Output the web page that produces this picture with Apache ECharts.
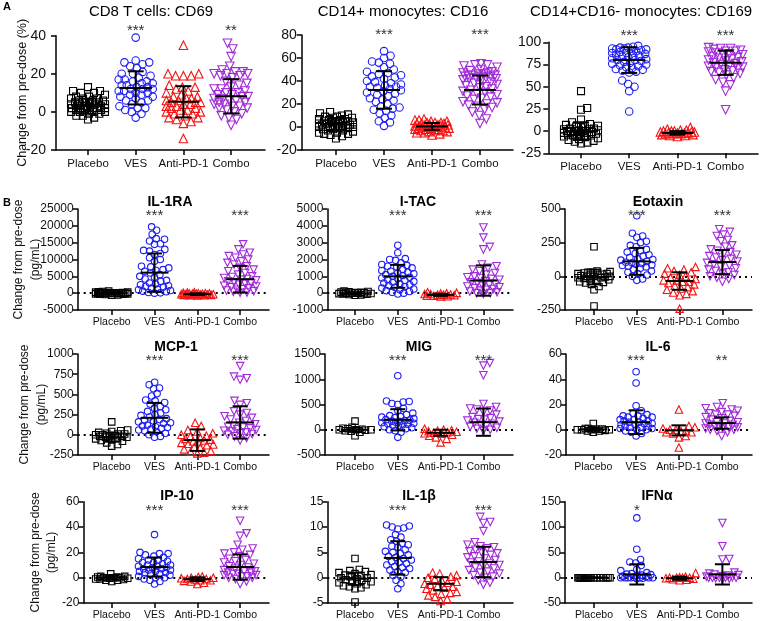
<!DOCTYPE html>
<html><head><meta charset="utf-8">
<script src="https://cdn.jsdelivr.net/npm/echarts@6/dist/echarts.min.js"></script>
<style>html,body{margin:0;padding:0;background:#fff}#c{width:760px;height:621px}</style>
</head><body><div id="c"></div><script>
const CATS = ['Placebo', 'VES', 'Anti-PD-1', 'Combo'];

// ---- A: CD8 T cells: CD69 (%)
const cd69Ticks = [-20, 0, 20, 40];
const cd69Placebo = [13, 11, 11, 10, 10, 9, 8, 8, 7, 7, 7, 6, 6, 6, 5, 5, 5, 5, 4, 4, 4, 4, 3, 3, 3, 3, 3, 2, 2, 2, 2, 2, 1, 1, 1, 1, 0, 0, 0, 0, -1, -1, -2, -2, -3, -4];
const cd69Ves = [39, 27, 26, 26, 25, 24, 23, 21, 20, 20, 19, 18, 17, 17, 16, 16, 15, 15, 14, 14, 13, 13, 12, 12, 12, 11, 11, 10, 10, 9, 9, 8, 8, 7, 6, 6, 5, 4, 3, 2, 2, 1, 0, -1, -3];
const cd69Anti = [35, 20, 20, 19, 19, 19, 14, 13, 13, 12, 11, 10, 9, 8, 8, 7, 7, 6, 6, 5, 5, 5, 4, 4, 3, 3, 2, 2, 1, 1, 0, 0, -1, -1, -2, -3, -3, -4, -5, -6, -14];
const cd69Combo = [36, 33, 29, 24, 22, 21, 21, 20, 20, 20, 19, 19, 18, 16, 15, 14, 13, 12, 12, 11, 10, 10, 9, 9, 8, 8, 7, 7, 6, 6, 5, 5, 4, 4, 3, 3, 2, 2, 1, 0, -1, -2, -3, -4, -7];
const cd69Mean = [3, 12.6, 5.3, 8.2];
const cd69Sd = [4, 8.7, 8.2, 9];
const cd69Stars = ['', '***', '', '**'];

// ---- A: CD14+ monocytes: CD16
const cd16Ticks = [-20, 0, 20, 40, 60, 80];
const cd16Placebo = [13, 12, 11, 10, 9, 9, 8, 8, 7, 7, 6, 6, 5, 5, 5, 4, 4, 4, 3, 3, 3, 2, 2, 2, 1, 1, 1, 0, 0, 0, -1, -1, -2, -2, -3, -3, -4, -5, -5, -6, -6, -7, -8, -10];
const cd16Ves = [66, 62, 60, 57, 56, 55, 52, 50, 48, 47, 46, 45, 44, 43, 42, 40, 39, 38, 37, 36, 35, 35, 34, 33, 32, 31, 30, 29, 28, 27, 25, 24, 23, 22, 20, 18, 17, 16, 15, 14, 12, 10, 8, 5, 4, 1];
const cd16Anti = [7, 6, 6, 5, 5, 4, 4, 4, 3, 3, 3, 2, 2, 2, 2, 1, 1, 1, 1, 0, 0, 0, 0, -1, -1, -1, -2, -2, -2, -3, -3, -3, -4, -4, -5, -5, -6, -7];
const cd16Combo = [55, 54, 54, 53, 52, 50, 49, 48, 47, 47, 46, 46, 45, 45, 45, 44, 44, 44, 43, 43, 42, 42, 41, 40, 39, 38, 37, 36, 35, 34, 33, 32, 31, 30, 29, 28, 27, 26, 25, 24, 22, 21, 20, 19, 18, 17, 15, 13, 10, 7, 3];
const cd16Mean = [2.3, 32.2, 0.5, 32.2];
const cd16Sd = [5.5, 16.3, 3, 12.6];
const cd16Stars = ['', '***', '', '***'];

// ---- A: CD14+CD16- monocytes: CD169
const cd169Ticks = [-25, 0, 25, 50, 75, 100];
const cd169Placebo = [45, 26, 24, 13, 10, 8, 7, 6, 5, 5, 4, 3, 3, 2, 2, 1, 1, 0, 0, 0, -1, -1, -2, -2, -3, -3, -4, -4, -5, -5, -6, -7, -8, -9, -10, -11, -12, -13, -14];
const cd169Ves = [96, 95, 94, 94, 93, 93, 92, 92, 91, 90, 90, 89, 88, 88, 87, 86, 85, 85, 84, 83, 82, 81, 80, 80, 79, 78, 77, 76, 75, 74, 73, 72, 71, 70, 69, 68, 67, 66, 57, 53, 50, 45, 22];
const cd169Anti = [4, 2, 1, 1, 0, 0, 0, -1, -1, -1, -2, -2, -2, -2, -3, -3, -3, -4, -4, -5, -5, -6];
const cd169Combo = [94, 93, 93, 92, 91, 90, 90, 89, 88, 87, 86, 85, 84, 83, 82, 81, 80, 79, 78, 77, 76, 75, 74, 73, 72, 71, 70, 69, 68, 67, 66, 65, 63, 60, 58, 55, 52, 45, 24];
const cd169Mean = [0, 80, -2, 77];
const cd169Sd = [10, 14.5, 2, 13.7];
const cd169Stars = ['', '***', '', '***'];

// ---- B: IL-1RA (pg/mL)
const il1raTicks = [-5000, 0, 5000, 10000, 15000, 20000, 25000];
const il1raPlacebo = [600, 500, 400, 300, 300, 200, 200, 100, 100, 100, 50, 0, 0, 0, 0, -50, -100, -100, -100, -200, -200, -300, -300, -400, -500, -600];
const il1raVes = [19700, 18700, 17500, 16200, 16000, 15500, 14700, 14500, 13000, 12700, 12500, 11800, 11500, 10500, 10000, 9500, 8000, 7800, 7500, 7000, 6800, 6500, 6000, 5500, 5000, 4700, 4200, 3800, 3500, 3000, 2700, 2500, 2200, 2000, 1800, 1500, 1200, 1000, 800, 600, 400, 200, 100, 0];
const il1raAnti = [300, 200, 100, 0, 0, -100, -100, -200, -200, -200, -300, -300, -300, -400, -400, -400, -500, -500, -500, -600, -600, -700];
const il1raCombo = [14500, 13000, 12000, 11500, 11000, 10500, 10000, 9500, 9000, 8500, 8000, 7500, 7000, 6500, 6000, 5500, 5000, 4800, 4500, 4200, 4000, 3800, 3500, 3200, 3000, 2800, 2500, 2200, 2000, 1800, 1500, 1200, 1000, 800, 600, 400, 200, 100];
const il1raMean = [0, 6100, -300, 4150];
const il1raSd = [300, 5700, 250, 3950];
const il1raStars = ['', '***', '', '***'];

// ---- B: I-TAC
const itacTicks = [-1000, 0, 1000, 2000, 3000, 4000, 5000];
const itacPlacebo = [120, 100, 80, 60, 50, 30, 20, 0, 0, 0, -20, -30, -50, -60, -80, -100, -120];
const itacVes = [2850, 2400, 2050, 2000, 1950, 1800, 1700, 1650, 1600, 1550, 1500, 1400, 1350, 1300, 1250, 1200, 1150, 1100, 1050, 1000, 950, 900, 850, 800, 750, 700, 650, 600, 550, 500, 450, 400, 350, 300, 250, 200, 150, 100, 50, 0, -50];
const itacAnti = [50, 20, 0, -20, -50, -50, -80, -100, -100, -120, -150, -150, -180, -200];
const itacCombo = [3900, 3300, 2750, 2600, 1700, 1600, 1500, 1400, 1300, 1200, 1100, 1000, 950, 900, 850, 800, 700, 650, 600, 550, 500, 450, 400, 350, 300, 250, 200, 150, 100, 50, 0, 0, -50];
const itacMean = [-10, 1000, -100, 750];
const itacSd = [60, 680, 60, 900];
const itacStars = ['', '***', '', '***'];

// ---- B: Eotaxin
const eotTicks = [-250, 0, 250, 500];
const eotPlacebo = [220, 40, 35, 30, 30, 25, 20, 20, 15, 10, 10, 5, 0, 0, 0, -5, -10, -10, -15, -20, -25, -30, -40, -45, -50, -60, -75, -100, -220];
const eotVes = [450, 320, 300, 290, 260, 250, 230, 220, 200, 190, 180, 170, 160, 150, 140, 130, 125, 120, 110, 105, 100, 95, 90, 85, 80, 75, 70, 60, 50, 40, 30, 20, 10, 0, -20, -30];
const eotAnti = [70, 60, 50, 40, 30, 20, 10, 0, -10, -20, -30, -30, -40, -40, -50, -60, -70, -80, -90, -100, -110, -120, -130, -140, -240];
const eotCombo = [350, 330, 310, 300, 270, 260, 230, 220, 200, 190, 180, 170, 160, 150, 140, 130, 120, 110, 100, 90, 80, 70, 60, 50, 40, 30, 20, 10, 0, -10, -20, -40];
const eotMean = [-5, 111, -35, 106];
const eotSd = [55, 100, 65, 90];
const eotStars = ['', '***', '', '***'];

// ---- B: MCP-1
const mcpTicks = [-250, 0, 250, 500, 750, 1000];
const mcpPlacebo = [160, 60, 50, 40, 30, 20, 10, 10, 0, 0, -10, -10, -20, -20, -30, -30, -40, -50, -60, -70, -80, -100, -120, -140];
const mcpVes = [650, 620, 580, 570, 510, 480, 430, 420, 400, 380, 350, 330, 310, 290, 270, 250, 240, 220, 200, 190, 180, 170, 160, 150, 140, 120, 110, 100, 90, 80, 70, 60, 50, 40, 20, 0, -20, -30];
const mcpAnti = [150, 110, 60, 40, 20, 0, -10, -20, -40, -50, -60, -70, -80, -90, -100, -110, -120, -130, -150, -160, -180, -200, -210, -220, -230];
const mcpCombo = [850, 720, 700, 680, 420, 390, 370, 290, 270, 250, 230, 210, 190, 170, 150, 130, 110, 100, 90, 80, 70, 60, 50, 40, 30, 20, 10, 0, -20, -40, -70];
const mcpMean = [-30, 210, -66, 153];
const mcpSd = [55, 185, 133, 200];
const mcpStars = ['', '***', '', '***'];

// ---- B: MIG
const migTicks = [-500, 0, 500, 1000, 1500];
const migPlacebo = [170, 50, 30, 20, 10, 0, 0, 0, -10, -20, -30, -50, -120];
const migVes = [1070, 570, 560, 550, 520, 500, 420, 380, 330, 300, 280, 260, 250, 240, 220, 200, 190, 180, 170, 160, 150, 140, 130, 120, 110, 100, 90, 80, 60, 40, 20, 0, -20, -50, -150];
const migAnti = [20, 0, -10, -20, -30, -40, -50, -60, -70, -80, -100, -120, -150, -180, -250];
const migCombo = [1320, 1270, 1080, 510, 450, 420, 400, 380, 350, 300, 250, 230, 210, 200, 180, 160, 140, 120, 100, 80, 60, 40, 20, 0, -20];
const migMean = [0, 197, -60, 150];
const migSd = [40, 210, 60, 270];
const migStars = ['', '***', '', '***'];

// ---- B: IL-6
const il6Ticks = [-20, 0, 20, 40, 60];
const il6Placebo = [5, 1, 1, 0.5, 0.5, 0, 0, 0, 0, -0.5, -1, -1, -2];
const il6Ves = [46, 37, 19, 15, 13, 12, 11, 11, 10, 10, 9, 8, 8, 7, 7, 6, 6, 5, 5, 4, 4, 3, 3, 2, 2, 1, 1, 0, 0, -1, -2, -3, -5];
const il6Anti = [16, 3, 2, 1, 0, 0, -1, -1, -2, -2, -3, -5, -6, -14];
const il6Combo = [21, 18, 17, 16, 15, 14, 13, 12, 12, 11, 10, 9, 8, 7, 6, 6, 5, 5, 4, 4, 3, 3, 2, 2, 1, 1, 0, 0, -1, -2, -5];
const il6Mean = [0.3, 6, -0.5, 5.3];
const il6Sd = [1.2, 9.4, 4, 4.5];
const il6Stars = ['', '***', '', '**'];

// ---- B: IP-10
const ip10Ticks = [-20, 0, 20, 40, 60];
const ip10Placebo = [3, 1, 1, 0.5, 0.5, 0, 0, 0, 0, -0.5, -0.5, -1, -1, -1.5, -2, -2, -3];
const ip10Ves = [34, 20, 19, 19, 18, 17, 16, 15, 14, 14, 13, 12, 12, 11, 10, 10, 9, 9, 8, 8, 7, 7, 6, 6, 5, 5, 4, 4, 3, 3, 2, 1, 0, 0, -1, -2, -3, -5];
const ip10Anti = [1, 0.5, 0, 0, -0.5, -1, -1, -1.5, -2, -2, -2.5, -3, -4, -5];
const ip10Combo = [45, 35, 33, 26, 23, 22, 20, 19, 18, 17, 15, 14, 13, 12, 11, 10, 9, 8, 7, 6, 5, 5, 4, 4, 3, 3, 2, 2, 1, 1, 0, 0, -1, -3, -5];
const ip10Mean = [0, 8.4, -1.2, 8.4];
const ip10Sd = [1.5, 7.5, 1.5, 10];
const ip10Stars = ['', '***', '', '***'];

// ---- B: IL-1β
const il1bTicks = [-5, 0, 5, 10, 15];
const il1bPlacebo = [3.8, 1.6, 1.4, 1.2, 1.0, 0.8, 0.6, 0.5, 0.4, 0.2, 0, 0, -0.2, -0.4, -0.5, -0.6, -0.8, -1, -1.2, -1.4, -1.6, -1.8, -2, -2.2, -4.8];
const il1bVes = [10.4, 10.2, 10, 9.8, 9.6, 8.5, 8.0, 7.5, 7.2, 6.8, 6.5, 6.2, 6.0, 5.5, 5.2, 5.0, 4.8, 4.5, 4.2, 4.0, 3.8, 3.5, 3.2, 3.0, 2.8, 2.5, 2.2, 2.0, 1.8, 1.5, 1.2, 1.0, 0.5, 0.2, -0.5, -1.2, -2.2];
const il1bAnti = [1.0, 0.8, 0.5, 0.2, 0, -0.2, -0.5, -0.8, -1.0, -1.2, -1.4, -1.6, -1.8, -2.0, -2.2, -2.5, -2.8, -3.0, -3.2, -3.5, -3.8, -4.2, -4.6];
const il1bCombo = [12, 11, 10.8, 9.2, 7, 6.5, 6.2, 6, 5.8, 5.5, 5.2, 5.0, 4.8, 4.5, 4.2, 4.0, 3.8, 3.5, 3.2, 3.0, 2.8, 2.5, 2.2, 2.0, 1.8, 1.5, 1.2, 1.0, 0.8, 0.5, 0.2, 0, -0.5, -1.0, -1.4];
const il1bMean = [-0.2, 3.9, -1.2, 3.1];
const il1bSd = [1.2, 3.3, 1.3, 3.0];
const il1bStars = ['', '***', '', '***'];

// ---- B: IFNα
const ifnTicks = [-50, 0, 50, 100, 150];
const ifnPlacebo = [0, 0, 0, 0, 0, 0, 0, 0, 0, 0, 0, 0, 0, 0, 0, 0, 0, 0, 0, 0];
const ifnVes = [118, 56, 36, 31, 29, 24, 16, 14, 10, 8, 7, 6, 5, 4, 3, 2, 1, 0, 0, 0, 0, 0, 0, 0, -1, -2];
const ifnAnti = [9, 2, 1, 0, 0, 0, 0, -1, -2, -3, -4, -5];
const ifnCombo = [108, 62, 37, 36, 10, 8, 6, 5, 4, 3, 2, 1, 0, 0, 0, 0, 0, -1, -2, -3];
const ifnMean = [0, 6.5, -1, 6.5];
const ifnSd = [0, 20, 3, 20];
const ifnStars = ['', '*', '', ''];

// ---------------- layout & styling ----------------
const COLORS = ['#000000', '#1d1df2', '#f51414', '#a12bd8'];
const SYMBOLS = ['rect', 'circle', 'triangle', 'triangle'];
const ROTS = [0, 0, 0, 180];
const FONT = '"Liberation Sans", Arial, sans-serif';
const BNAME = 'Change from pre-dose\n(pg/mL)';

const PANELS = [
  {title: 'CD8 T cells: CD69', sec: 'A', d: [cd69Placebo, cd69Ves, cd69Anti, cd69Combo], mean: cd69Mean, sd: cd69Sd, stars: cd69Stars, ticks: cd69Ticks,
   L: 56, R: 265, T: 35.7, B: 150, c0: 88, step: 47.7, tx: 151, ty: 12, sy: 28, lm: 10, yName: 'Change from pre-dose (%)', nameGap: 25},
  {title: 'CD14+ monocytes: CD16', sec: 'A', d: [cd16Placebo, cd16Ves, cd16Anti, cd16Combo], mean: cd16Mean, sd: cd16Sd, stars: cd16Stars, ticks: cd16Ticks,
   L: 301.7, R: 513, T: 35, B: 150, c0: 336, step: 48, tx: 403, ty: 12, sy: 32, lm: 5},
  {title: 'CD14+CD16- monocytes: CD169', sec: 'A', d: [cd169Placebo, cd169Ves, cd169Anti, cd169Combo], mean: cd169Mean, sd: cd169Sd, stars: cd169Stars, ticks: cd169Ticks,
   L: 548.3, R: 758, T: 42.3, B: 153.3, c0: 581, step: 48.2, tx: 641, ty: 12, sy: 32.7, lm: 7},
  {title: 'IL-1RA', sec: 'B', d: [il1raPlacebo, il1raVes, il1raAnti, il1raCombo], mean: il1raMean, sd: il1raSd, stars: il1raStars, ticks: il1raTicks,
   L: 77.7, R: 269, T: 209, B: 310, c0: 111.7, step: 42.8, tx: 170, ty: 202, sy: 213, lm: 4, yName: BNAME, nameGap: 34},
  {title: 'I-TAC', sec: 'B', d: [itacPlacebo, itacVes, itacAnti, itacCombo], mean: itacMean, sd: itacSd, stars: itacStars, ticks: itacTicks,
   L: 327.3, R: 513, T: 209, B: 310, c0: 355, step: 42.8, tx: 418, ty: 202, sy: 213, lm: 4},
  {title: 'Eotaxin', sec: 'B', d: [eotPlacebo, eotVes, eotAnti, eotCombo], mean: eotMean, sd: eotSd, stars: eotStars, ticks: eotTicks,
   L: 565, R: 752, T: 209, B: 310, c0: 594, step: 42.8, tx: 658, ty: 202, sy: 213, lm: 4},
  {title: 'MCP-1', sec: 'B', d: [mcpPlacebo, mcpVes, mcpAnti, mcpCombo], mean: mcpMean, sd: mcpSd, stars: mcpStars, ticks: mcpTicks,
   L: 77.7, R: 269, T: 354, B: 455, c0: 111.7, step: 42.8, tx: 176, ty: 347, sy: 358, lm: 4, yName: BNAME, nameGap: 28},
  {title: 'MIG', sec: 'B', d: [migPlacebo, migVes, migAnti, migCombo], mean: migMean, sd: migSd, stars: migStars, ticks: migTicks,
   L: 325, R: 513, T: 354, B: 455, c0: 355, step: 42.8, tx: 419, ty: 347, sy: 358, lm: 4},
  {title: 'IL-6', sec: 'B', d: [il6Placebo, il6Ves, il6Anti, il6Combo], mean: il6Mean, sd: il6Sd, stars: il6Stars, ticks: il6Ticks,
   L: 566, R: 752, T: 354, B: 455, c0: 593.3, step: 42.8, tx: 658, ty: 347, sy: 358, lm: 4},
  {title: 'IP-10', sec: 'B', d: [ip10Placebo, ip10Ves, ip10Anti, ip10Combo], mean: ip10Mean, sd: ip10Sd, stars: ip10Stars, ticks: ip10Ticks,
   L: 83.3, R: 269, T: 501.7, B: 604, c0: 111.7, step: 42.8, tx: 177, ty: 495.7, sy: 508.3, lm: 4, yName: BNAME, nameGap: 23},
  {title: 'IL-1β', sec: 'B', d: [il1bPlacebo, il1bVes, il1bAnti, il1bCombo], mean: il1bMean, sd: il1bSd, stars: il1bStars, ticks: il1bTicks,
   L: 327.3, R: 513, T: 501.7, B: 604, c0: 355, step: 42.8, tx: 419, ty: 495.7, sy: 508.3, lm: 4},
  {title: 'IFNα', sec: 'B', d: [ifnPlacebo, ifnVes, ifnAnti, ifnCombo], mean: ifnMean, sd: ifnSd, stars: ifnStars, ticks: ifnTicks,
   L: 565, R: 752, T: 501.7, B: 604, c0: 594, step: 42.8, tx: 657, ty: 495.7, sy: 508.3, lm: 4}
];

// beeswarm layout (pixel offsets) computed from values
function swarm(values, pxPerUnit, diam, maxHalf) {
  const order = values.map((v, i) => i).sort((a, b) => values[a] - values[b]);
  const placed = [];
  const offs = new Array(values.length).fill(0);
  const d2 = diam * diam - 0.01;
  for (const i of order) {
    const y = values[i] * pxPerUnit;
    const cands = [0];
    for (const p of placed) {
      const dy = Math.abs(p.y - y);
      if (dy < diam) {
        const dx = Math.sqrt(diam * diam - dy * dy);
        cands.push(p.x + dx, p.x - dx);
      }
    }
    cands.sort((a, b) => Math.abs(a) - Math.abs(b));
    let best = null;
    for (const c of cands) {
      if (Math.abs(c) > maxHalf) continue;
      if (placed.every(p => (p.x - c) * (p.x - c) + (p.y - y) * (p.y - y) >= d2)) { best = c; break; }
    }
    if (best === null) {
      let bestD = -1; best = 0;
      for (let x = -maxHalf; x <= maxHalf; x += 1) {
        let md = Infinity;
        for (const p of placed) { const dd = (p.x - x) * (p.x - x) + (p.y - y) * (p.y - y); if (dd < md) md = dd; }
        if (md > bestD + 0.5) { bestD = md; best = x; }
      }
    }
    placed.push({x: best, y: y});
    offs[i] = best;
  }
  return offs;
}

const grid = [], xAxis = [], yAxis = [], series = [], graphic = [];

PANELS.forEach((p, gi) => {
  const isA = p.sec === 'A';
  const yMin = p.ticks[0], yMax = p.ticks[p.ticks.length - 1];
  const interval = p.ticks[1] - p.ticks[0];
  const h = p.B - p.T;
  const pxPerUnit = h / (yMax - yMin);
  grid.push({left: p.L, top: p.T, width: p.R - p.L, height: h, containLabel: false});
  const axisLineStyle = {color: '#000', width: 1.5};
  xAxis.push({
    type: 'value', gridIndex: gi,
    min: (p.L - p.c0) / p.step, max: (p.R - p.c0) / p.step,
    axisLine: {show: true, onZero: false, lineStyle: axisLineStyle},
    axisTick: {show: true, customValues: [0, 1, 2, 3], length: 5, lineStyle: axisLineStyle},
    axisLabel: {show: true, customValues: [0, 1, 2, 3], formatter: v => CATS[Math.round(v)] || '',
      fontSize: isA ? 11.5 : 10.5, color: '#111', fontFamily: FONT, margin: isA ? 8 : 7},
    splitLine: {show: false}
  });
  yAxis.push({
    type: 'value', gridIndex: gi, min: yMin, max: yMax, interval: interval,
    axisLine: {show: true, onZero: false, lineStyle: axisLineStyle},
    axisTick: {show: true, length: 5, lineStyle: axisLineStyle},
    axisLabel: {fontSize: isA ? 14 : 12, color: '#111', fontFamily: FONT, margin: p.lm, formatter: v => String(v)},
    splitLine: {show: false},
    name: p.yName || '', nameLocation: 'middle', nameGap: p.nameGap || 30, nameRotate: 90,
    nameMoveOverlap: false,
    nameTextStyle: {fontSize: isA ? 12.5 : 12, color: '#111', fontFamily: FONT, lineHeight: 16.5}
  });
  const symSize = isA ? [7, 7.5, 8.5, 8.5] : [6.5, 6.5, 7.5, 7.5];
  p.d.forEach((vals, g) => {
    const offs = swarm(vals, pxPerUnit, symSize[g] * 0.92, isA ? 17 : 16);
    const s = {
      type: 'scatter', xAxisIndex: gi, yAxisIndex: gi, z: 2,
      symbol: SYMBOLS[g], symbolRotate: ROTS[g], symbolSize: symSize[g],
      itemStyle: {color: 'rgba(0,0,0,0)', borderColor: COLORS[g], borderWidth: 1.1, opacity: 1},
      silent: true, animation: false,
      data: vals.map((v, k) => ({value: [g, v], symbolOffset: [offs[k], 0]}))
    };
    if (!isA && g === 0) {
      s.markLine = {silent: true, symbol: 'none', animation: false, z: 1,
        label: {show: false},
        lineStyle: {type: [2, 4], color: '#000', width: 2},
        data: [{yAxis: 0}]};
    }
    series.push(s);
  });
  // mean ± SD bars
  const mHalf = isA ? 16 : 14, cHalf = isA ? 8 : 7.5;
  series.push({
    type: 'custom', xAxisIndex: gi, yAxisIndex: gi, z: 5, silent: true, animation: false,
    encode: {x: 0, y: 1},
    data: p.mean.map((m, g) => [g, m, p.sd[g]]),
    renderItem: function (params, api) {
      const g = api.value(0), m = api.value(1), s = api.value(2);
      const c = api.coord([g, m]);
      const t = api.coord([g, m + s]);
      const b = api.coord([g, m - s]);
      const st = {stroke: '#000', lineWidth: 2, fill: null};
      return {type: 'group', children: [
        {type: 'line', shape: {x1: c[0] - mHalf, y1: c[1], x2: c[0] + mHalf, y2: c[1]}, style: st},
        {type: 'line', shape: {x1: c[0], y1: t[1], x2: c[0], y2: b[1]}, style: st},
        {type: 'line', shape: {x1: c[0] - cHalf, y1: t[1], x2: c[0] + cHalf, y2: t[1]}, style: st},
        {type: 'line', shape: {x1: c[0] - cHalf, y1: b[1], x2: c[0] + cHalf, y2: b[1]}, style: st}
      ]};
    }
  });
  // significance stars
  const starData = [];
  p.stars.forEach((s, g) => { if (s) starData.push([g, yMax, s]); });
  const dy = p.sy - p.T;
  series.push({
    type: 'custom', xAxisIndex: gi, yAxisIndex: gi, z: 6, silent: true, animation: false, clip: false,
    encode: {x: 0, y: 1},
    data: starData,
    renderItem: function (params, api) {
      const c = api.coord([api.value(0), api.value(1)]);
      const txt = starData[params.dataIndex][2];
      return {type: 'text', x: c[0], y: c[1] + dy + 3,
        style: {text: txt, fill: '#333', font: '15px ' + FONT, align: 'center', verticalAlign: 'middle'}};
    }
  });
  graphic.push({type: 'text', x: p.tx, y: p.ty, silent: true,
    style: {text: p.title, fill: '#000',
      font: isA ? '15px ' + FONT : 'bold 14px ' + FONT, align: 'center', verticalAlign: 'middle'}});
});

graphic.push({type: 'text', x: 3, y: 7, style: {text: 'A', fill: '#000', font: 'bold 11px ' + FONT, verticalAlign: 'middle'}});
graphic.push({type: 'text', x: 3, y: 203, style: {text: 'B', fill: '#000', font: 'bold 11px ' + FONT, verticalAlign: 'middle'}});

const chart = echarts.init(document.getElementById('c'), null, {renderer: 'canvas'});
chart.setOption({animation: false, backgroundColor: '#fff', grid, xAxis, yAxis, series, graphic});
</script></body></html>
